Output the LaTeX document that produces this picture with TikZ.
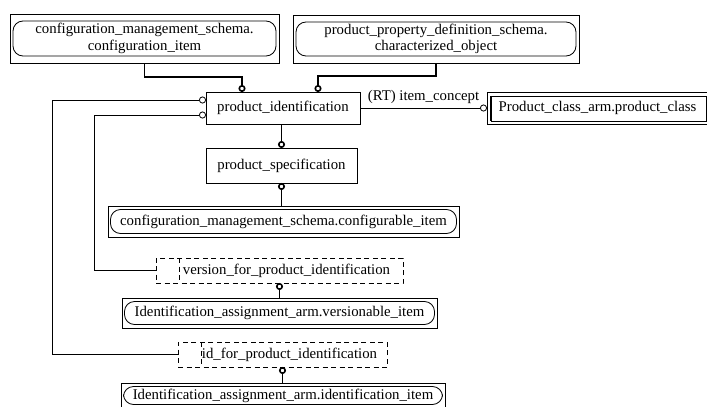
\documentclass[tikz,border=0pt]{standalone}
\usepackage{fontspec}
\setmainfont{Liberation Serif}
\usetikzlibrary{arrows.meta}
\tikzset{
	ent/.style={draw,line width=0.8pt,inner sep=0pt,outer sep=0pt,align=center,font=\fontsize{14.8}{16.5}\selectfont},
	sel/.style={ent,dash pattern=on 5pt off 3.5pt},
	link/.style={line width=1.6pt},
	ref/.style={line width=0.8pt}
}
\begin{document}
\begin{tikzpicture}[x=1pt,y=-1pt,>={Circle[open,length=7pt]}]
	\useasboundingbox (0,0) rectangle (707,407);
	% entities and types
	\node[ent,minimum width=269pt,minimum height=49pt] (cmsitem) at (144.5,38.5) {configuration\_management\_schema.\\configuration\_item};
	\node[ent,minimum width=286pt,minimum height=48pt] (ppdobj) at (436,39) {product\_property\_definition\_schema.\\characterized\_object};
	\node[ent,minimum width=154pt,minimum height=32pt] (pid) at (283,108) {product\_identification};
	\node[ent,minimum width=221pt,minimum height=32pt] (pclass) at (597.5,108) {Product\_class\_arm.product\_class};
	\node[ent,minimum width=151pt,minimum height=35pt] (spec) at (281.5,165.5) {product\_specification};
	\node[ent,minimum width=351pt,minimum height=31pt] (cmscfg) at (283.5,221.5) {configuration\_management\_schema.configurable\_item};
	\node[sel,minimum width=247pt,minimum height=25pt] (verpid) at (279.5,270.5) {\hspace*{14pt}version\_for\_product\_identification};
	\node[ent,minimum width=315pt,minimum height=30pt] (iaversion) at (279.5,313) {Identification\_assignment\_arm.versionable\_item};
	\node[sel,minimum width=209pt,minimum height=25pt] (idpid) at (282.5,354.5) {\hspace*{14pt}id\_for\_product\_identification};
	\node[ent,minimum width=324pt,minimum height=25pt] (iaident) at (283,395.5) {Identification\_assignment\_arm.identification\_item};
	% inner outlines
	\foreach \n/\dx/\dy in {cmsitem/3/7,ppdobj/3/7,cmscfg/2.5/3.5,iaversion/2.5/3.5,iaident/2.5/3.5}
	\draw[line width=0.8pt,rounded corners=10pt] ([shift={(\dx,\dy)}]\n.north west) rectangle ([shift={(-\dx,-\dy)}]\n.south east);
	\draw[line width=0.8pt] ([shift={(4,4)}]pclass.north west) rectangle ([shift={(-2,-3)}]pclass.south east);
	\draw[link] ([shift={(4,4)}]pclass.north west) -- ([shift={(4,-3)}]pclass.south west);
	\foreach \n in {verpid,idpid}
	\draw[ref,dash pattern=on 5pt off 3.5pt] ([xshift=23pt]\n.north west) -- ([xshift=23pt]\n.south west);
	% relations
	\draw[link,->] (cmsitem.south) -- ++(0,14) -| ([xshift=36pt]pid.north west);
	\draw[link,->] (ppdobj.south) -- ++(0,13) -| ([xshift=112pt]pid.north west);
	\draw[ref,->] (idpid.west) -- ++(-126,0) |- ([yshift=-8pt]pid.north west);
	\draw[ref,->] (verpid.west) -- ++(-62,0) |- ([yshift=-23pt]pid.north west);
	\draw[ref,->] (pid) -- (pclass) node[midway,above=1pt,font=\fontsize{14.8}{16.5}\selectfont] {(RT) item\_concept};
	\draw[link,->] (pid.south -| spec.north) -- (spec.north);
	\draw[link,<-] (spec.south) -- (spec.south |- cmscfg.north);
	\draw[link,<-] (verpid.south) -- (iaversion.north);
	\draw[link,<-] (idpid.south) -- (idpid.south |- iaident.north);
\end{tikzpicture}
\end{document}
